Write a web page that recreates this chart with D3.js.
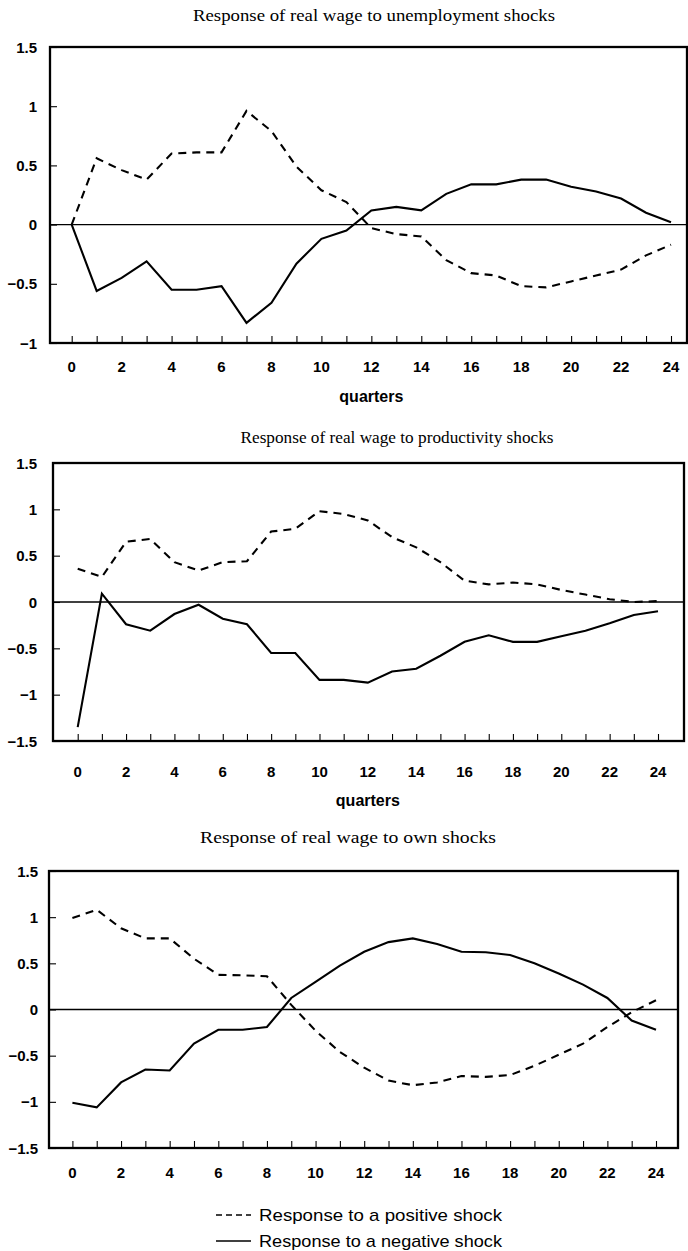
<!DOCTYPE html>
<html><head><meta charset="utf-8">
<script src="https://cdn.jsdelivr.net/npm/d3@7"></script>
<style>body{margin:0;background:#fff}svg{display:block}</style>
</head><body>
<script>
const quarters = d3.range(0, 25);
const xTickLabels = [0,2,4,6,8,10,12,14,16,18,20,22,24];
const titles = ["Response of real wage to unemployment shocks","Response of real wage  to productivity shocks","Response of real wage to own shocks"];
const yTicks1 = [-1,-0.5,0,0.5,1,1.5];
const yTicks23 = [-1.5,-1,-0.5,0,0.5,1,1.5];
const unempPos = [0,0.56,0.46,0.38,0.60,0.61,0.61,0.96,0.79,0.49,0.29,0.19,-0.03,-0.08,-0.10,-0.30,-0.41,-0.43,-0.52,-0.53,-0.48,-0.43,-0.38,-0.26,-0.17];
const unempNeg = [0,-0.56,-0.45,-0.31,-0.55,-0.55,-0.52,-0.83,-0.66,-0.33,-0.12,-0.05,0.12,0.15,0.12,0.26,0.34,0.34,0.38,0.38,0.32,0.28,0.22,0.10,0.02];
const prodPos = [0.36,0.27,0.65,0.68,0.43,0.34,0.43,0.44,0.76,0.79,0.98,0.95,0.88,0.70,0.59,0.43,0.23,0.19,0.21,0.19,0.13,0.08,0.03,0.0,0.01];
const prodNeg = [-1.35,0.09,-0.24,-0.31,-0.13,-0.03,-0.18,-0.24,-0.55,-0.55,-0.84,-0.84,-0.87,-0.75,-0.72,-0.58,-0.43,-0.36,-0.43,-0.43,-0.37,-0.31,-0.23,-0.14,-0.10];
const ownPos = [0.99,1.08,0.88,0.77,0.77,0.55,0.375,0.37,0.36,0.05,-0.23,-0.46,-0.63,-0.77,-0.82,-0.79,-0.72,-0.73,-0.71,-0.61,-0.49,-0.37,-0.19,-0.03,0.10];
const ownNeg = [-1.01,-1.06,-0.79,-0.65,-0.66,-0.37,-0.22,-0.22,-0.19,0.125,0.30,0.475,0.625,0.73,0.77,0.71,0.625,0.62,0.59,0.50,0.39,0.27,0.125,-0.12,-0.22];
const legendLabels = ["Response to a positive shock","Response to a negative shock"];

const W = 688, H = 1251;
const svg = d3.select("body").append("svg").attr("width", W).attr("height", H);
const SANS = "'Liberation Sans',Arial,sans-serif";

const panels = [
  {title: titles[0], pos: unempPos, neg: unempNeg, yDom:[-1,1.5], yTicks:yTicks1,
   left:50, right:687, top:47, bottom:343, x0:71.7, x24:671, titleY:21, titleX:374, titleW:362,
   ylabX:37, xlabY:372, quarters:true, qY:402},
  {title: titles[1], pos: prodPos, neg: prodNeg, yDom:[-1.5,1.5], yTicks:yTicks23,
   left:53, right:684, top:463, bottom:741, x0:77.7, x24:658, titleY:443, titleX:397, titleW:313,
   ylabX:37, xlabY:777, quarters:true, qY:806},
  {title: titles[2], pos: ownPos, neg: ownNeg, yDom:[-1.5,1.5], yTicks:yTicks23,
   left:49, right:678, top:871, bottom:1148, x0:72.4, x24:656, titleY:843, titleX:348, titleW:296,
   ylabX:38, xlabY:1178, quarters:false}
];

panels.forEach(p => {
  const g = svg.append("g");
  const x = d3.scaleLinear().domain([0,24]).range([p.x0, p.x24]);
  const y = d3.scaleLinear().domain(p.yDom).range([p.bottom, p.top]);
  g.append("text").attr("x", p.titleX).attr("y", p.titleY)
    .attr("text-anchor","middle").attr("font-family","'Liberation Serif','Times New Roman',serif")
    .attr("font-size",16.5).attr("textLength",p.titleW).attr("lengthAdjust","spacingAndGlyphs")
    .text(p.title);
  // zero line
  g.append("line").attr("x1",p.left).attr("x2",p.right).attr("y1",y(0)).attr("y2",y(0))
    .attr("stroke","#000").attr("stroke-width",1.4);
  // y axis ticks (inward)
  const ya = d3.axisRight(y).tickValues(p.yTicks).tickSize(7).tickFormat("");
  g.append("g").attr("transform",`translate(${p.left},0)`).call(ya)
    .call(s=>s.select(".domain").remove()).selectAll("line").attr("stroke-width",1.1);
  g.selectAll(".ylab").data(p.yTicks).join("text")
    .attr("x", p.ylabX).attr("y", d=>y(d)+5.5).attr("text-anchor","end")
    .attr("font-family",SANS).attr("font-weight","bold")
    .attr("font-size",15).text(d=>d3.format("")(d));
  // x ticks inward
  const xa = d3.axisTop(x).tickValues(quarters).tickSize(7).tickFormat("");
  g.append("g").attr("transform",`translate(0,${p.bottom})`).call(xa)
    .call(s=>s.select(".domain").remove()).selectAll("line").attr("stroke-width",1.1);
  g.selectAll(".xlab").data(xTickLabels).join("text")
    .attr("x", d=>x(d)).attr("y", p.xlabY).attr("text-anchor","middle")
    .attr("font-family",SANS).attr("font-weight","bold")
    .attr("font-size",15).text(d=>d);
  if (p.quarters) {
    g.append("text").attr("x", x(12)).attr("y", p.qY).attr("text-anchor","middle")
      .attr("font-family",SANS).attr("font-weight","bold")
      .attr("font-size",16).text("quarters");
  }
  // box
  g.append("rect").attr("x",p.left).attr("y",p.top).attr("width",p.right-p.left).attr("height",p.bottom-p.top)
    .attr("fill","none").attr("stroke","#000").attr("stroke-width",2.3);
  const line = d3.line().x((d,i)=>x(quarters[i])).y(d=>y(d));
  g.append("path").attr("d", line(p.pos)).attr("fill","none").attr("stroke","#000")
    .attr("stroke-width",2.1).attr("stroke-dasharray","8,6");
  g.append("path").attr("d", line(p.neg)).attr("fill","none").attr("stroke","#000")
    .attr("stroke-width",2.1);
});

// legend
const lg = svg.append("g");
[0,1].forEach(i=>{
  const yy = 1221 + i*26;
  lg.append("line").attr("x1",216).attr("x2",251).attr("y1",yy-6).attr("y2",yy-6)
    .attr("stroke","#000").attr("stroke-width",1.6).attr("stroke-dasharray", i===0?"6,4":null);
  lg.append("text").attr("x",259).attr("y",yy).attr("font-family",SANS)
    .attr("font-size",17).attr("textLength",243).attr("lengthAdjust","spacingAndGlyphs")
    .text(legendLabels[i]);
});
</script>
</body></html>
